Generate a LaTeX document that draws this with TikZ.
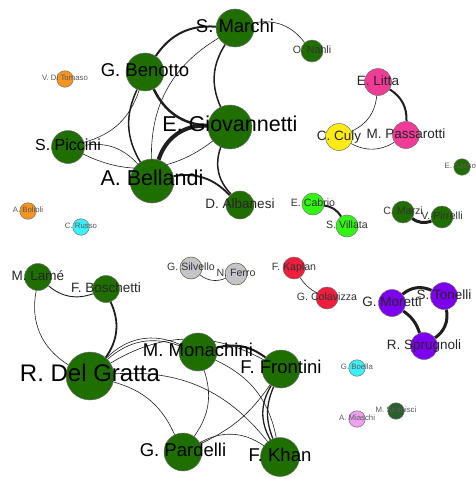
\documentclass[tikz,border=0pt]{standalone}
\usepackage{fontspec}
\setmainfont{Liberation Sans}
\usetikzlibrary{backgrounds}

% node fills
\definecolor{gnode}{RGB}{31,110,0}
\definecolor{orangenode}{RGB}{247,148,30}
\definecolor{cyannode}{RGB}{60,240,250}
\definecolor{pinknode}{RGB}{240,60,150}
\definecolor{yellownode}{RGB}{255,235,20}
\definecolor{limenode}{RGB}{50,245,20}
\definecolor{graynode}{RGB}{196,196,202}
\definecolor{rednode}{RGB}{240,30,60}
\definecolor{purplenode}{RGB}{125,0,240}
\definecolor{lilacnode}{RGB}{240,160,240}
\definecolor{mossnode}{RGB}{45,95,45}
\definecolor{rim}{RGB}{110,110,110}
\definecolor{edgecol}{RGB}{30,30,30}

\begin{document}
\begin{tikzpicture}[x=1pt,y=-1pt,
  person/.style={circle,draw=rim,line width=0.5pt,inner sep=0pt,fill=gnode},
  ego/.style={person,minimum size=48pt},
  big/.style={person,minimum size=44pt},
  mid/.style={person,minimum size=38pt},
  mid2/.style={person,minimum size=33pt},
  small/.style={person,minimum size=27pt},
  tiny/.style={person,minimum size=22pt},
  dot/.style={person,minimum size=16.5pt},
  lbl/.style={anchor=base,inner sep=0pt},
  lblA/.style={lbl,font=\fontsize{24}{24}\selectfont,yshift=-5.3pt,text=black},
  lblB/.style={lbl,font=\fontsize{21.5}{21.5}\selectfont,yshift=-4.7pt,text=black},
  lblC/.style={lbl,font=\fontsize{18.5}{18.5}\selectfont,yshift=-4.1pt,text=black},
  lblD/.style={lbl,font=\fontsize{16}{16}\selectfont,yshift=-3.5pt,text=black},
  lblE/.style={lbl,font=\fontsize{13.5}{13.5}\selectfont,yshift=-3pt,text=black!85},
  lblF/.style={lbl,font=\fontsize{10.6}{10.6}\selectfont,yshift=-2.4pt,text=black!80},
  lblG/.style={lbl,font=\fontsize{7.8}{7.8}\selectfont,yshift=-1.8pt,text=black!65},
  link/.style={draw=edgecol,line width=#1},
  link/.default=0.6pt,
]
\useasboundingbox (0,0) rectangle (475,479);

% ---- author nodes ----
\node[mid]  (marchi)     at (235,28)  {};
\node[mid]  (benotto)    at (145,72)  {};
\node[big]  (giov)       at (230,127) {};
\node[big]  (bellandi)   at (152,181) {};
\node[mid2] (piccini)    at (68,147)  {};
\node[small,minimum size=28pt] (albanesi) at (240,205) {};
\node[tiny] (nahli)      at (312,51)  {};
\node[dot,fill=orangenode] (ditomaso) at (65,79)  {};
\node[dot,fill=orangenode] (bolioli)  at (28,211) {};
\node[dot,fill=cyannode]   (russo)    at (81,227) {};
\node[small,fill=pinknode]   (litta)      at (378,82)  {};
\node[small,fill=yellownode] (culy)       at (339,137) {};
\node[small,fill=pinknode]   (passarotti) at (406,135) {};
\node[dot]  (sassoli)    at (462,167) {};
\node[tiny,fill=limenode] (cabrio)  at (313,204) {};
\node[tiny,fill=limenode] (villata) at (347,226) {};
\node[tiny] (marzi)      at (403,212) {};
\node[tiny] (pirrelli)   at (442,217) {};
\node[small] (lame)      at (38,277)  {};
\node[small] (boschetti) at (106,289) {};
\node[tiny,fill=graynode,draw=black!45!olive] (silvello) at (191,268) {};
\node[tiny,fill=graynode,draw=black!45!olive] (ferro)    at (236,274) {};
\node[ego]  (delgratta)  at (90,376)  {};
\node[mid]  (monachini)  at (198,352) {};
\node[mid]  (frontini)   at (281,369) {};
\node[mid]  (pardelli)   at (183,452) {};
\node[mid,minimum size=39pt] (khan) at (280,457) {};
\node[tiny,fill=rednode] (kaplan)    at (294,268) {};
\node[tiny,fill=rednode] (colavizza) at (327,298) {};
\node[small,fill=purplenode] (moretti)   at (392,303) {};
\node[small,fill=purplenode] (tonelli)   at (444,296) {};
\node[small,fill=purplenode] (sprugnoli) at (424,346) {};
\node[dot,fill=cyannode]  (boella)    at (357,368) {};
\node[dot,fill=lilacnode] (miaschi)   at (357,419) {};
\node[dot,fill=mossnode]  (stranisci) at (396,411) {};

% ---- co-authorship links, kept beneath the nodes ----
\begin{scope}[on background layer]
\draw[link=2pt]   (benotto) to[bend left=30] (marchi);
\draw[link]       (bellandi) to[bend left=30] (marchi);
\draw[link=1.5pt] (giov) to[bend left=28] (marchi);
\draw[link]       (marchi) to[bend left=32] (nahli);
\draw[link=2.5pt] (benotto) to[bend right=30] (giov);
\draw[link=1.5pt] (benotto) to[bend right=28] (bellandi);
\draw[link]       (piccini) to[bend right=28] (benotto);
\draw[link]       (piccini) to[bend left=28] (bellandi);
\draw[link]       (piccini) to[bend right=32] (giov);
\draw[link=4pt]   (bellandi) to[bend left=38] (giov);
\draw[link=1.5pt] (giov) to[bend right=32] (albanesi);
\draw[link=1.8pt] (bellandi) to[bend left=28] (albanesi);
\draw[link]       (litta) to[bend left=30] (culy);
\draw[link=2pt]   (litta) to[bend left=30] (passarotti);
\draw[link]       (culy) to[bend right=30] (passarotti);
\draw[link=2pt]   (cabrio) to[bend left=25] (villata);
\draw[link=3pt]   (marzi) to[bend right=28] (pirrelli);
\draw[link=0.9pt] (lame) to[bend right=30] (boschetti);
\draw[link]       (lame) to[bend right=35] (delgratta);
\draw[link=1.8pt] (boschetti) to[bend left=30] (delgratta);
\draw[link]       (silvello) to[bend right=30] (ferro);
\draw[link]       (kaplan) to[bend right=15] (colavizza);
\draw[link=3pt]   (moretti) to[bend left=32] (tonelli);
\draw[link=3pt]   (moretti) to[bend left=18] (sprugnoli);
\draw[link=3pt]   (tonelli) to[bend left=32] (sprugnoli);
\draw[link]       (delgratta) to[bend left=31] (monachini);
\draw[link]       (delgratta) to[bend left=35] (monachini);
\draw[link]       (delgratta) to[bend left=30] (frontini);
\draw[link=2pt]   (monachini) to[bend left=25] (frontini);
\draw[link]       (delgratta) to[bend left=25] (pardelli);
\draw[link]       (delgratta) to[bend left=28] (khan);
\draw[link]       (monachini) to[bend left=27] (pardelli);
\draw[link]       (monachini) to[bend left=27] (khan);
\draw[link]       (frontini) to[bend left=15] (pardelli);
\draw[link=1.3pt] (frontini) to[bend right=30] (khan);
\draw[link=1.3pt] (frontini) to[bend right=22] (khan);
\draw[link]       (pardelli) to[bend left=32] (khan);
\end{scope}

% ---- names, set over the nodes ----
\node[lblC] (marchi-t)     at (marchi.center)     {S. Marchi};
\node[lblC] (benotto-t)    at (benotto.center)    {G. Benotto};
\node[lblB] (giov-t)       at (giov.center)       {E. Giovannetti};
\node[lblB] (bellandi-t)   at (bellandi.center)   {A. Bellandi};
\node[lblD] (piccini-t)    at (piccini.center)    {S. Piccini};
\node[lblE] (albanesi-t)   at (albanesi.center)   {D. Albanesi};
\node[lblF] (nahli-t)      at (nahli.center)      {O. Nahli};
\node[lblG] (ditomaso-t)   at (ditomaso.center)   {V. Di Tomaso};
\node[lblG] (bolioli-t)    at (bolioli.center)    {A. Bolioli};
\node[lblG] (russo-t)      at (russo.center)      {C. Russo};
\node[lblE] (litta-t)      at (litta.center)      {E. Litta};
\node[lblE] (culy-t)       at (culy.center)       {C. Culy};
\node[lblE] (passarotti-t) at (passarotti.center) {M. Passarotti};
\node[lblG] (sassoli-t)    at (sassoli.center)    {E. Sassoli};
\node[lblF] (cabrio-t)     at (cabrio.center)     {E. Cabrio};
\node[lblF] (villata-t)    at (villata.center)    {S. Villata};
\node[lblF] (marzi-t)      at (marzi.center)      {C. Marzi};
\node[lblF] (pirrelli-t)   at (pirrelli.center)   {V. Pirrelli};
\node[lblE] (lame-t)       at (lame.center)       {M. Lamé};
\node[lblE] (boschetti-t)  at (boschetti.center)  {F. Boschetti};
\node[lblF] (silvello-t)   at (silvello.center)   {G. Silvello};
\node[lblF] (ferro-t)      at (ferro.center)      {N. Ferro};
\node[lblA] (delgratta-t)  at (delgratta.center)  {R. Del Gratta};
\node[lblC] (monachini-t)  at (monachini.center)  {M. Monachini};
\node[lblC] (frontini-t)   at (frontini.center)   {F. Frontini};
\node[lblC] (pardelli-t)   at (pardelli.center)   {G. Pardelli};
\node[lblC] (khan-t)       at (khan.center)       {F. Khan};
\node[lblF] (kaplan-t)     at (kaplan.center)     {F. Kaplan};
\node[lblF] (colavizza-t)  at (colavizza.center)  {G. Colavizza};
\node[lblE] (moretti-t)    at (moretti.center)    {G. Moretti};
\node[lblE] (tonelli-t)    at (tonelli.center)    {S. Tonelli};
\node[lblE] (sprugnoli-t)  at (sprugnoli.center)  {R. Sprugnoli};
\node[lblG] (boella-t)     at (boella.center)     {G. Boella};
\node[lblG] (miaschi-t)    at (miaschi.center)    {A. Miaschi};
\node[lblG] (stranisci-t)  at (stranisci.center)  {M. Stranisci};
\end{tikzpicture}
\end{document}
